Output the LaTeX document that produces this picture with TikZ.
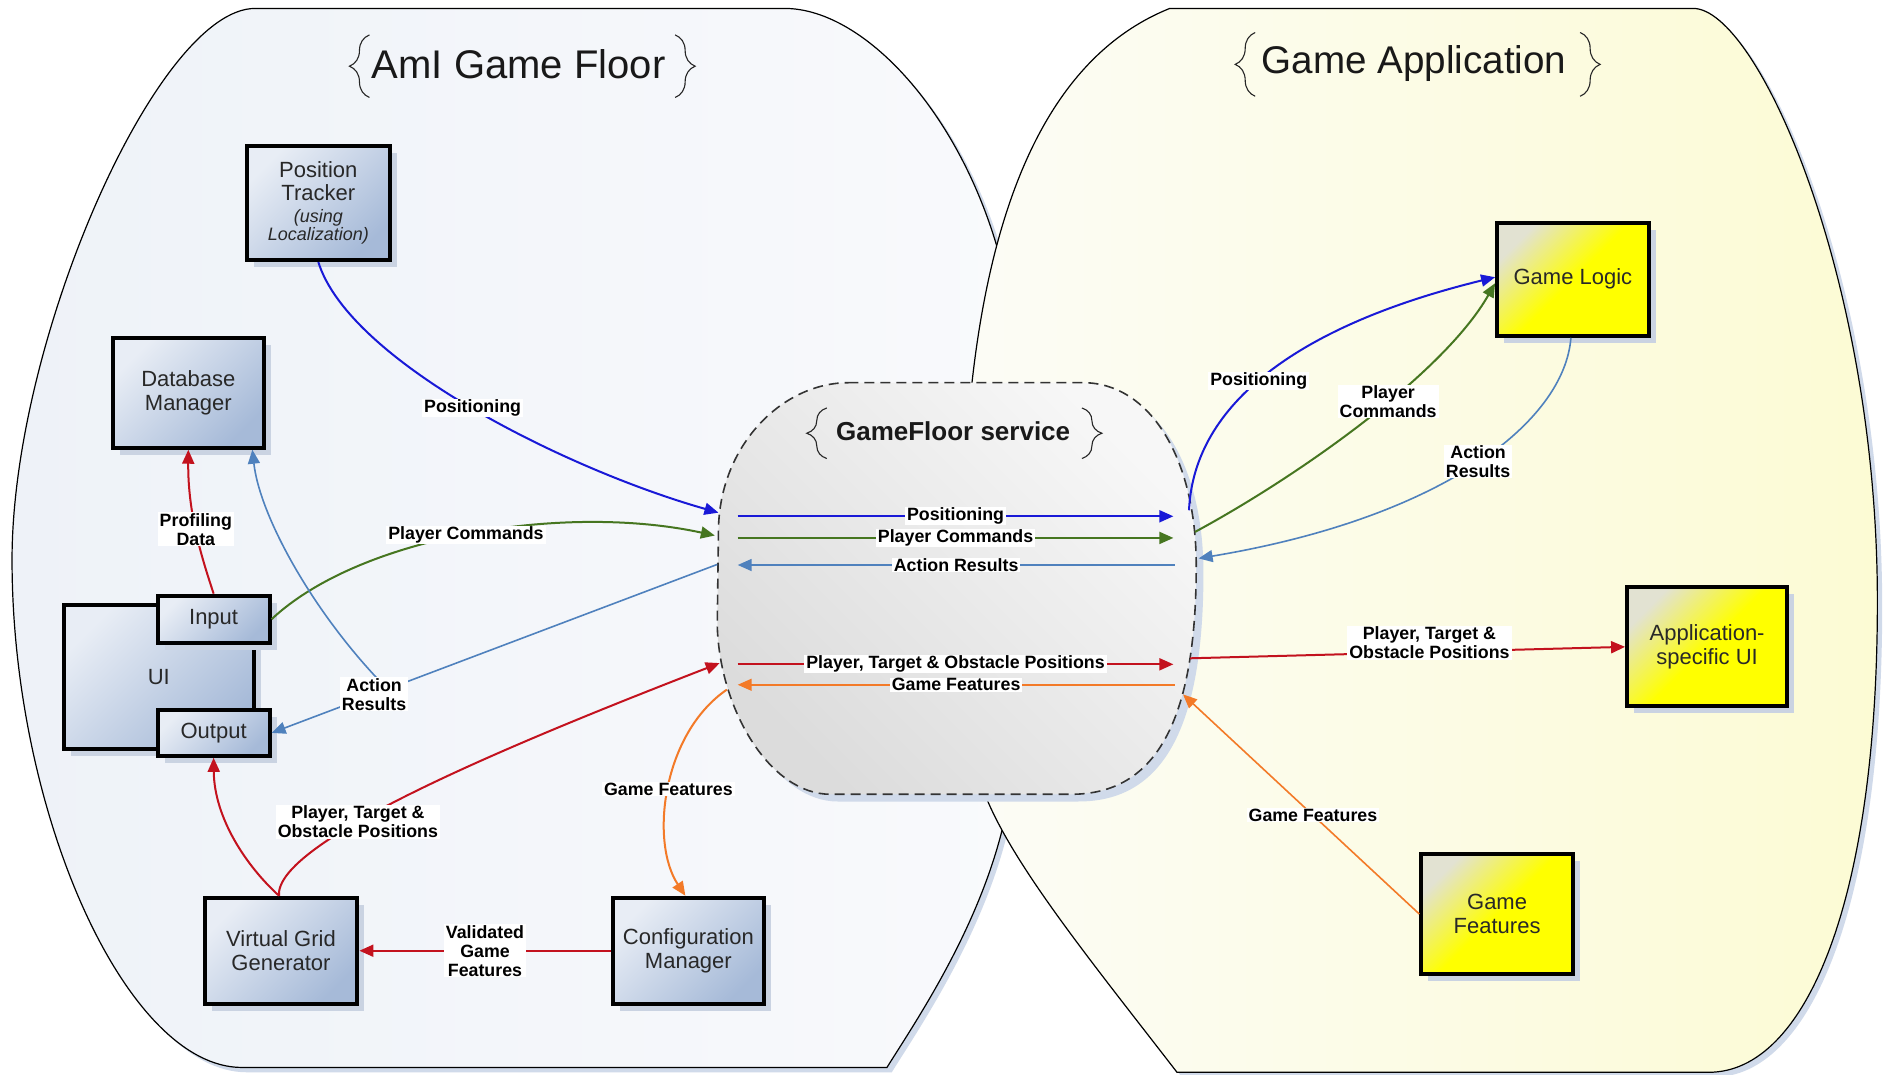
\documentclass[tikz,border=0pt]{standalone}
\usepackage{fontspec}
\setmainfont{Liberation Sans}
\usetikzlibrary{arrows.meta,decorations.pathreplacing,shadows,calc}

\definecolor{cblue}{RGB}{25,25,215}
\definecolor{cgreen}{RGB}{70,118,32}
\definecolor{csteel}{RGB}{79,129,189}
\definecolor{cred}{RGB}{195,18,30}
\definecolor{corange}{RGB}{243,122,40}
\definecolor{boxlight}{RGB}{232,237,245}
\definecolor{boxdark}{RGB}{166,186,216}
\definecolor{ylight}{RGB}{226,226,210}
\definecolor{boxshadow}{RGB}{202,211,226}
\definecolor{floorA}{RGB}{238,242,248}
\definecolor{floorB}{RGB}{249,250,252}
\definecolor{appA}{RGB}{252,252,246}
\definecolor{appB}{RGB}{252,251,212}
\definecolor{svcA}{RGB}{247,247,247}
\definecolor{svcB}{RGB}{220,220,220}
\definecolor{areashadow}{RGB}{208,218,234}
\definecolor{txt}{RGB}{40,40,40}

% outline of the AmI game floor area
\newcommand\gffloorpath{(212,7) -- (652,7) .. controls (720,7) and (805,100) .. (835,230)
  .. controls (850,330) and (850,560) .. (835,680) .. controls (815,770) and (760,850) .. (737,887)
  -- (201,887) .. controls (105,887) and (10,676) .. (10,465) .. controls (10,282) and (131,7) .. (212,7) -- cycle}
% outline of the game application area
\newcommand\gfapppath{(972,7) -- (1407,7) .. controls (1460,7) and (1560,230) .. (1560,500)
  .. controls (1560,750) and (1500,891) .. (1420,891) -- (978,891)
  .. controls (900,790) and (826,700) .. (812,640) .. controls (800,590) and (800,530) .. (800,470)
  .. controls (800,250) and (840,60) .. (972,7) -- cycle}
% outline of the GameFloor service
\newcommand\gfsvcpath{(705,318) -- (900,318) .. controls (955,318) and (994,380) .. (994,470)
  .. controls (994,600) and (960,660) .. (890,660) -- (690,660) .. controls (640,660) and (598,590) .. (596,520)
  -- (597,440) .. controls (598,370) and (650,318) .. (705,318) -- cycle}

\begin{document}
\begin{tikzpicture}[x=0.6017pt, y=-0.6017pt,
  comp/.style={draw=black, line width=2pt, align=center, text=txt, inner sep=0pt,
    font=\fontsize{11}{11.7}\selectfont,
    drop shadow={shadow xshift=3.5pt, shadow yshift=-3.5pt, fill=boxshadow, opacity=1}},
  bluecomp/.style={comp, top color=boxlight, bottom color=boxdark, shading angle=45},
  yellowcomp/.style={comp, top color=ylight, bottom color=yellow, middle color=yellow, shading angle=45},
  flow/.style={line width=1pt, -{Triangle[length=7pt,width=6pt]}},
  thinflow/.style={flow, line width=0.8pt},
  lbl/.style={fill=white, inner xsep=1pt, inner ysep=0.4pt, align=center, text=black,
    font=\bfseries\fontsize{8.9}{9.5}\selectfont},
  arealine/.style={draw=black, line width=0.6pt},
  curly/.style={decorate, decoration={brace, amplitude=10pt}, line width=0.55pt, draw=black!85},
  bigtitle/.style={anchor=base, text=black!90}
]
\useasboundingbox (0,0) rectangle (1568,893);
\fill[white] (0,0) rectangle (1568,893);

% the two areas
\fill[areashadow, shift={(4,4)}] \gffloorpath;
\path[arealine, left color=floorA, right color=floorB] \gffloorpath;
\fill[areashadow, shift={(4,4)}] \gfapppath;
\path[arealine, left color=appA, right color=appB] \gfapppath;

% the service in the middle
\fill[areashadow, shift={(6,6)}] \gfsvcpath;
\path[draw=black!80, line width=0.8pt, dash pattern=on 5pt off 3pt,
  top color=svcA, bottom color=svcB, shading angle=-45] \gfsvcpath;

% titles
\node[bigtitle, font=\fontsize{20}{22}\selectfont] (floortitle) at (431,65) {AmI Game Floor};
\draw[curly] (307,81) -- (307,29);
\draw[curly] (561,29) -- (561,81);
\node[bigtitle, font=\fontsize{19.3}{22}\selectfont] (apptitle) at (1175,61) {Game Application};
\draw[curly] (1043,80) -- (1043,27);
\draw[curly] (1313,27) -- (1313,80);
\node[bigtitle, font=\bfseries\fontsize{13}{15}\selectfont] (svctitle) at (792,366) {GameFloor service};
\draw[curly] (687,381) -- (687,339);
\draw[curly] (899,339) -- (899,381);

% components of the game floor
\node[bluecomp, minimum width=71.6pt, minimum height=57.2pt] (tracker) at (264.5,168.5)
  {Position\\Tracker\\[-1pt]\fontsize{9}{9.3}\selectfont\itshape (using\\[-2.6pt]\fontsize{9}{9.3}\selectfont\itshape Localization)};
\node[bluecomp, minimum width=75.2pt, minimum height=54.8pt] (db) at (156.5,326.5) {Database\\Manager};
\node[bluecomp, minimum width=95.1pt, minimum height=71.6pt] (ui) at (132,562.5) {UI};
\node[bluecomp, minimum width=56pt, minimum height=23.5pt] (input) at (177.5,514.5) {Input};
\node[bluecomp, minimum width=56pt, minimum height=22.9pt] (output) at (177.5,609) {Output};
\node[bluecomp, minimum width=76.4pt, minimum height=53pt] (vgg) at (233.5,790) {Virtual Grid\\Generator};
\node[bluecomp, minimum width=75.8pt, minimum height=53pt] (cfg) at (572,790) {Configuration\\Manager};

% components of the game application
\node[yellowcomp, minimum width=75.8pt, minimum height=56.6pt] (logic) at (1307,232) {Game Logic};
\node[yellowcomp, minimum width=80pt, minimum height=59.6pt] (appui) at (1418.5,537.5) {Application-\\specific UI};
\node[yellowcomp, minimum width=75.8pt, minimum height=59.6pt] (features) at (1244,759.5) {Game\\Features};

% ports on the service border
\coordinate (sL1) at (597,426);
\coordinate (sL2) at (594,445);
\coordinate (sL3) at (596,469);
\coordinate (sL4) at (598,551);
\coordinate (sL5) at (604,573);
\coordinate (sR1) at (988,424);
\coordinate (sR2) at (993,442);
\coordinate (sR3) at (996,464);
\coordinate (sR4) at (989,547);
\coordinate (sR5) at (983,577);

% flows through the service
\coordinate (posA) at (613,429);   \coordinate (posB) at (975,429);
\coordinate (cmdA) at (613,447);   \coordinate (cmdB) at (975,447);
\coordinate (resA) at (976,469.5); \coordinate (resB) at (613,469.5);
\coordinate (ptoA) at (613,552);   \coordinate (ptoB) at (975,552);
\coordinate (featA) at (976,569);  \coordinate (featB) at (613,569);
\draw[flow, cblue] (posA) -- node[lbl] {Positioning} (posB);
\draw[flow, cgreen] (cmdA) -- node[lbl] {Player Commands} (cmdB);
\draw[thinflow, csteel] (resA) -- node[lbl] {Action Results} (resB);
\draw[flow, cred] (ptoA) -- node[lbl] {Player, Target \& Obstacle Positions} (ptoB);
\draw[thinflow, corange] (featA) -- node[lbl] {Game Features} (featB);

% game floor side
\draw[flow, cblue] (tracker.south) .. controls (290,300) and (470,390) ..
  node[lbl, pos=0.5] {Positioning} (sL1);
\draw[flow, cgreen] (input.east) .. controls (300,445) and (470,418) ..
  node[lbl, pos=0.49] {Player Commands} (sL2);
\coordinate (arJ) at ($(sL3)!0.74!(output.east)$);
\draw[thinflow, csteel] (arJ) .. controls (262,512) and (216,430) .. ([xshift=-6.6pt]db.south east);
\draw[thinflow, csteel] (sL3) -- node[lbl, pos=0.77] {Action\\Results} (output.east);
\draw[flow, cred] (input.north) .. controls (170,470) and (156,430) ..
  node[lbl, pos=0.55] {Profiling\\Data} (db.south);
\coordinate (vggTop) at ([xshift=-1pt]vgg.north);
\draw[flow, cred] (vggTop) .. controls (205,720) and (178,680) .. (output.south);
\draw[flow, cred] (vggTop) .. controls (228,700) and (420,620) ..
  node[lbl, pos=0.37] {Player, Target \&\\Obstacle Positions} (sL4);
\draw[flow, corange] (sL5) .. controls (550,610) and (540,700) ..
  node[lbl, pos=0.5] {Game Features} ([xshift=-1.5pt]cfg.north);
\draw[flow, cred] (cfg.west) -- node[lbl] {Validated\\Game\\Features} (vgg.east);

% game application side
\draw[flow, cblue] (sR1) .. controls (992,335) and (1080,270) ..
  node[lbl, pos=0.46] {Positioning} ([yshift=1pt]logic.west);
\draw[flow, cgreen] (sR2) .. controls (1080,395) and (1200,310) ..
  node[lbl, pos=0.57] {Player\\Commands} ([yshift=-2pt]logic.west);
\draw[thinflow, csteel] ([xshift=-1pt]logic.south) .. controls (1300,350) and (1200,430) ..
  node[lbl, pos=0.49] {Action\\Results} (sR3);
\draw[flow, cred] (sR4) -- node[lbl, pos=0.55, yshift=4.5pt] {Player, Target \&\\Obstacle Positions} (appui.west);
\draw[thinflow, corange] (features.west) -- node[lbl, pos=0.45] {Game Features} (sR5);
\end{tikzpicture}
\end{document}
